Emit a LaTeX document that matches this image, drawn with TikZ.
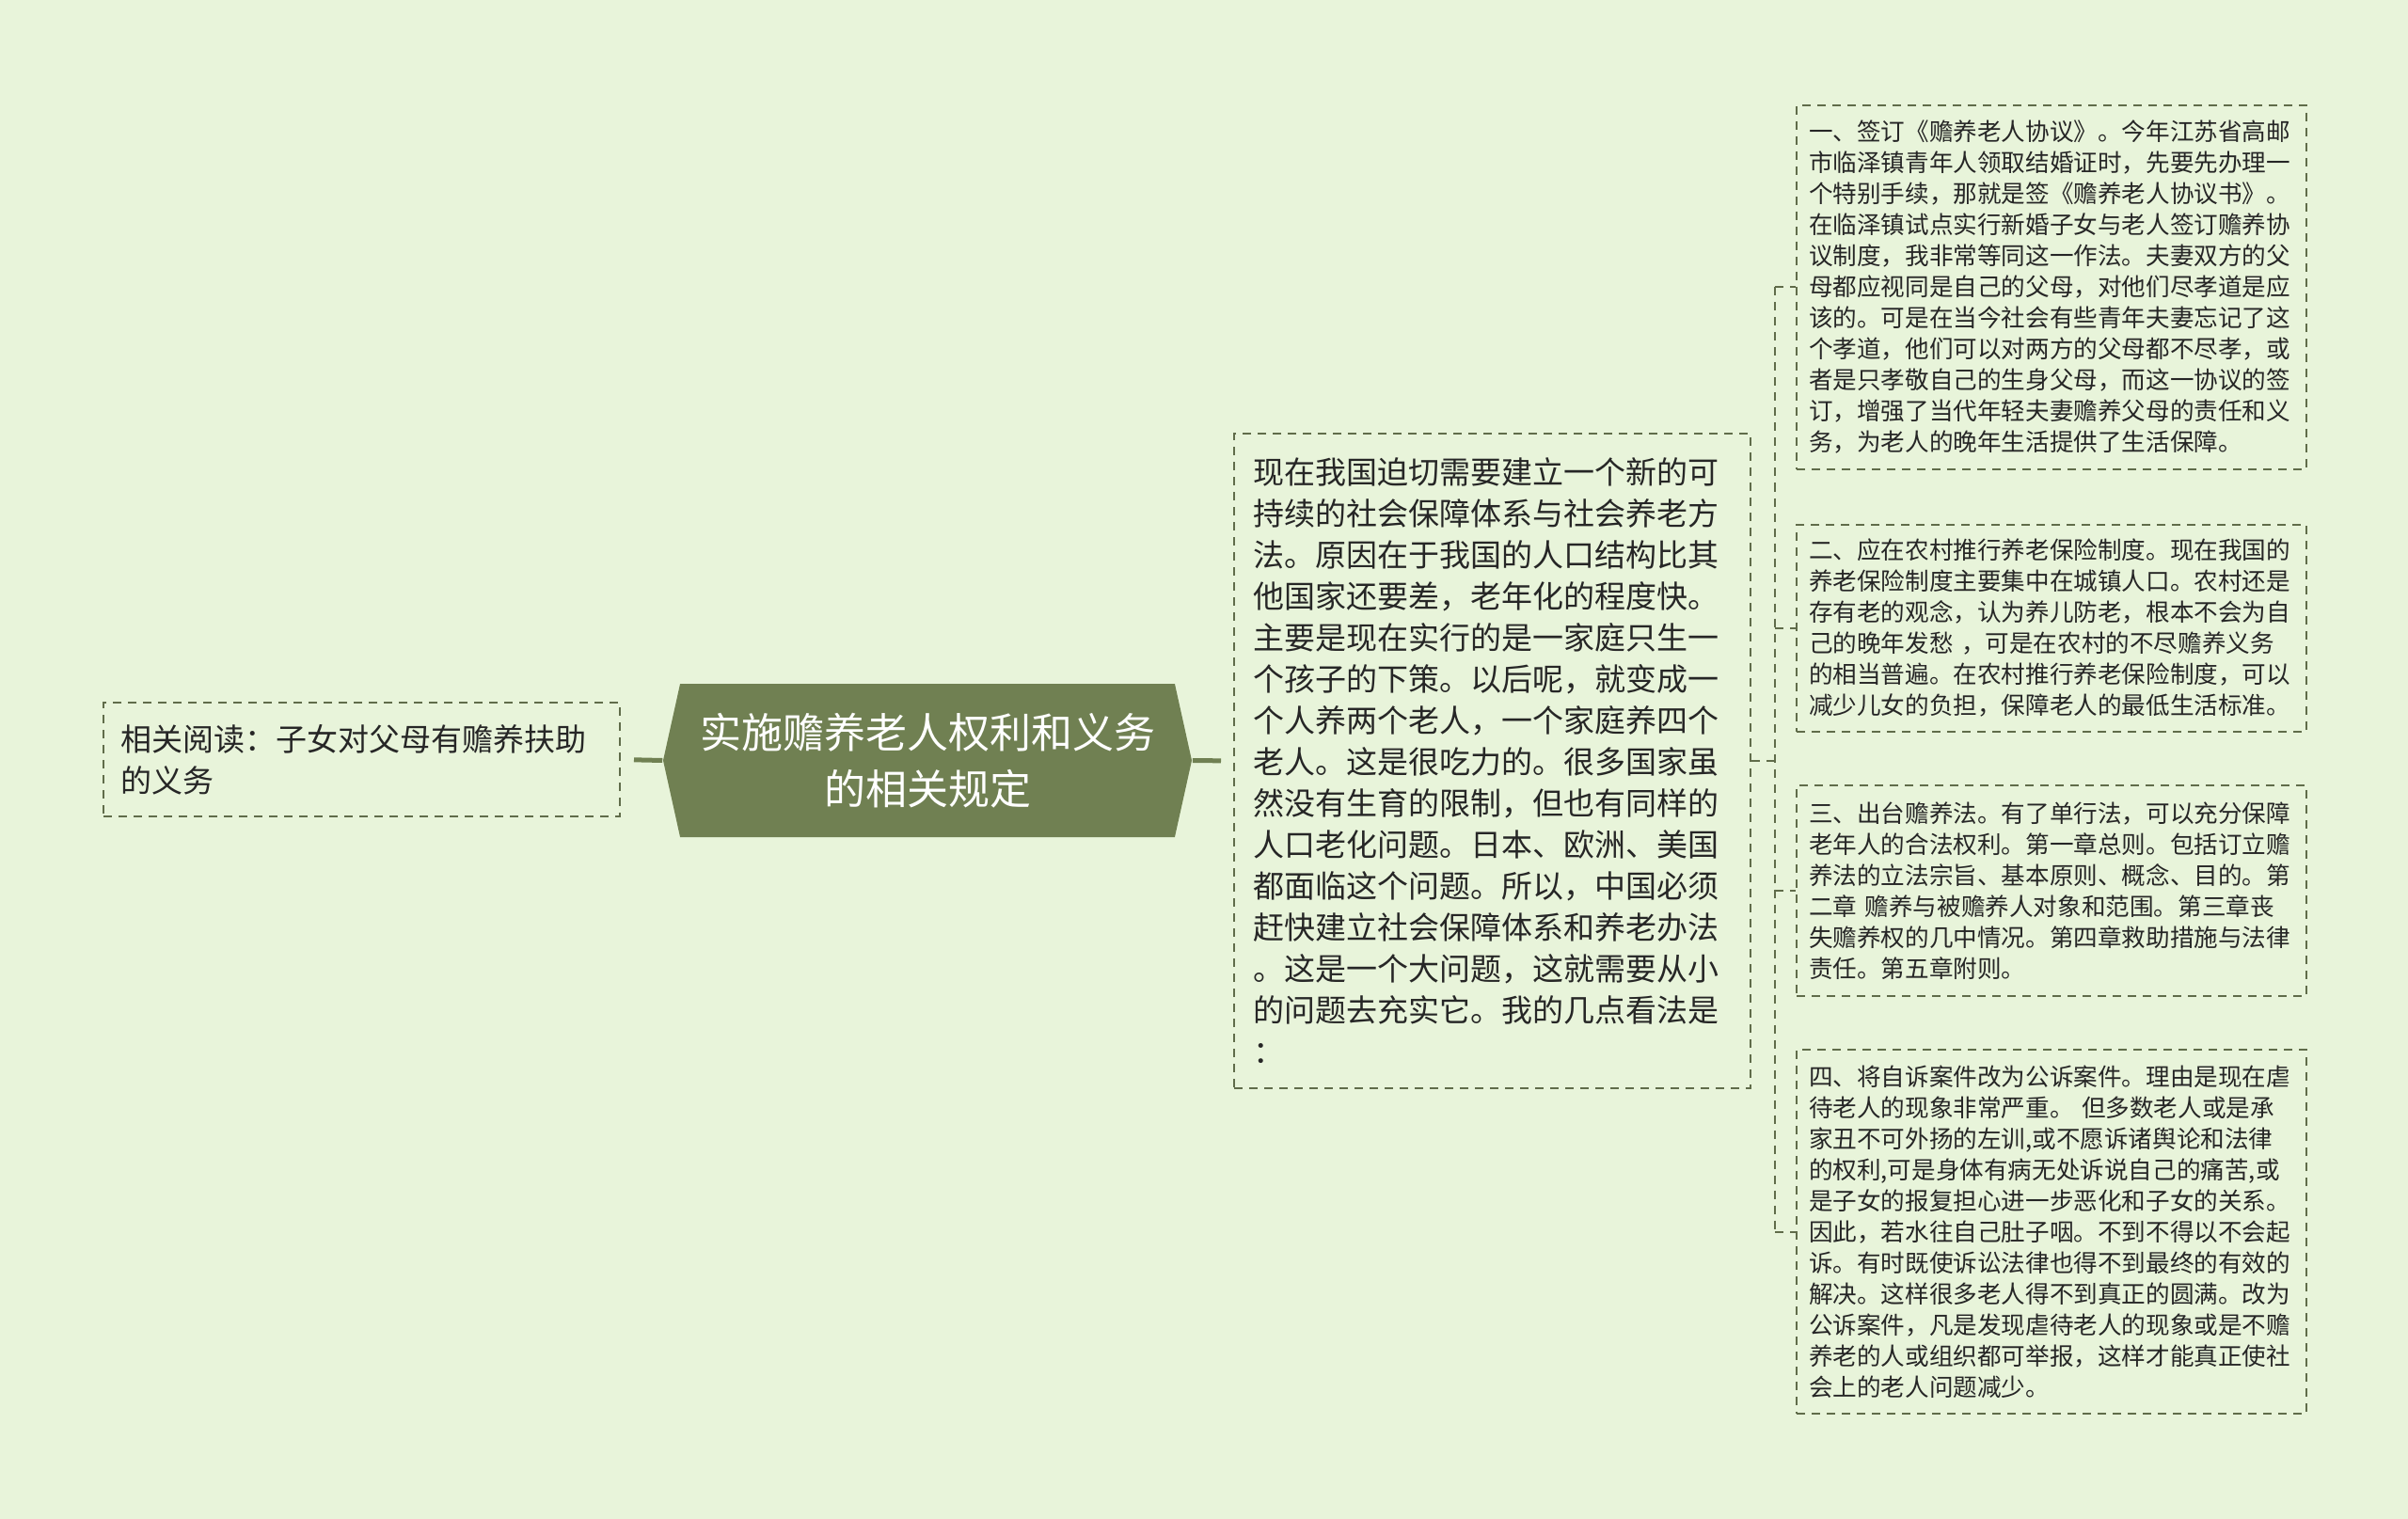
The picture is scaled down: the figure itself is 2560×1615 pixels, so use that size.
\documentclass[tikz,border=0pt]{standalone}
\usepackage{fontspec}
\setmainfont{Noto Sans CJK SC}
\usetikzlibrary{shapes.symbols}

\definecolor{paper}{RGB}{232,244,218}
\definecolor{olive}{RGB}{112,128,82}
\definecolor{edge}{RGB}{96,108,74}
\definecolor{ink}{RGB}{38,38,38}

\tikzset{every picture/.style={line width=0.75pt}}
\tikzset{
  hub/.style={shape=signal, signal to=east and west, signal pointer angle=155,
    fill=olive, draw=none, text=white, minimum width=281pt, minimum height=81.5pt,
    inner sep=0pt, align=center, font=\fontsize{22pt}{30pt}\selectfont},
  leaf/.style={draw=edge, line width=1pt, dash pattern=on 4.5pt off 3.5pt,
    text=ink, align=left, anchor=north west},
  sidenote/.style={leaf, minimum width=274.5pt, minimum height=60.5pt,
    inner xsep=9pt, text width=256.5pt, font=\fontsize{16.5pt}{22pt}\selectfont},
  mainnote/.style={leaf, minimum width=274.5pt, minimum height=348pt,
    inner xsep=10pt, text width=254.5pt, font=\fontsize{16.5pt}{22pt}\selectfont},
  pointnote/.style={leaf, minimum width=271pt,
    inner xsep=6.5pt, text width=258pt, font=\fontsize{12.8pt}{16.5pt}\selectfont},
  trunk/.style={draw=olive, line width=2.5pt},
  twig/.style={draw=edge, line width=1pt, dash pattern=on 4.5pt off 3.5pt}
}

\begin{document}
\begin{tikzpicture}[x=0.5pt,y=0.5pt,yscale=-1]

\fill[paper] (0,0) rectangle (2560,1615);
\useasboundingbox (0,0) rectangle (2560,1615);

\node[hub] (hub) at (986,808.5) {实施赡养老人权利和义务\\的相关规定};

\node[sidenote] (related) at (109,746) {相关阅读：子女对父母有赡养扶助\\的义务};

\node[mainnote] (reason) at (1311,460) {现在我国迫切需要建立一个新的可\\
持续的社会保障体系与社会养老方\\
法。原因在于我国的人口结构比其\\
他国家还要差，老年化的程度快。\\
主要是现在实行的是一家庭只生一\\
个孩子的下策。以后呢，就变成一\\
个人养两个老人，一个家庭养四个\\
老人。这是很吃力的。很多国家虽\\
然没有生育的限制，但也有同样的\\
人口老化问题。日本、欧洲、美国\\
都面临这个问题。所以，中国必须\\
赶快建立社会保障体系和养老办法\\
。这是一个大问题，这就需要从小\\
的问题去充实它。我的几点看法是\\
：};

\node[pointnote, minimum height=193.5pt] (first) at (1909,111) {一、签订《赡养老人协议》。今年江苏省高邮\\
市临泽镇青年人领取结婚证时，先要先办理一\\
个特别手续，那就是签《赡养老人协议书》。\\
在临泽镇试点实行新婚子女与老人签订赡养协\\
议制度，我非常等同这一作法。夫妻双方的父\\
母都应视同是自己的父母，对他们尽孝道是应\\
该的。可是在当今社会有些青年夫妻忘记了这\\
个孝道，他们可以对两方的父母都不尽孝，或\\
者是只孝敬自己的生身父母，而这一协议的签\\
订，增强了当代年轻夫妻赡养父母的责任和义\\
务，为老人的晚年生活提供了生活保障。};

\node[pointnote, minimum height=110pt] (second) at (1909,557) {二、应在农村推行养老保险制度。现在我国的\\
养老保险制度主要集中在城镇人口。农村还是\\
存有老的观念，认为养儿防老，根本不会为自\\
己的晚年发愁 ，可是在农村的不尽赡养义务\\
的相当普遍。在农村推行养老保险制度，可以\\
减少儿女的负担，保障老人的最低生活标准。};

\node[pointnote, minimum height=112pt] (third) at (1909,834) {三、出台赡养法。有了单行法，可以充分保障\\
老年人的合法权利。第一章总则。包括订立赡\\
养法的立法宗旨、基本原则、概念、目的。第\\
二章 赡养与被赡养人对象和范围。第三章丧\\
失赡养权的几中情况。第四章救助措施与法律\\
责任。第五章附则。};

\node[pointnote, minimum height=193.5pt] (fourth) at (1909,1115) {四、将自诉案件改为公诉案件。理由是现在虐\\
待老人的现象非常严重。 但多数老人或是承\\
家丑不可外扬的左训,或不愿诉诸舆论和法律\\
的权利,可是身体有病无处诉说自己的痛苦,或\\
是子女的报复担心进一步恶化和子女的关系。\\
因此，若水往自己肚子咽。不到不得以不会起\\
诉。有时既使诉讼法律也得不到最终的有效的\\
解决。这样很多老人得不到真正的圆满。改为\\
公诉案件，凡是发现虐待老人的现象或是不赡\\
养老的人或组织都可举报，这样才能真正使社\\
会上的老人问题减少。};

\draw[trunk, shorten <=7pt] (related.east) -- (hub.west);
\draw[trunk, shorten >=6.5pt] (hub.east) -- (reason.west);

\draw[twig] (reason.east) -- ++(25,0) coordinate (fork);
\draw[twig] (fork |- first.west) -- (fork |- fourth.west);
\draw[twig] (fork |- first.west) -- (first.west);
\draw[twig] (fork |- second.west) -- (second.west);
\draw[twig] (fork |- third.west) -- (third.west);
\draw[twig] (fork |- fourth.west) -- (fourth.west);

\end{tikzpicture}
\end{document}
